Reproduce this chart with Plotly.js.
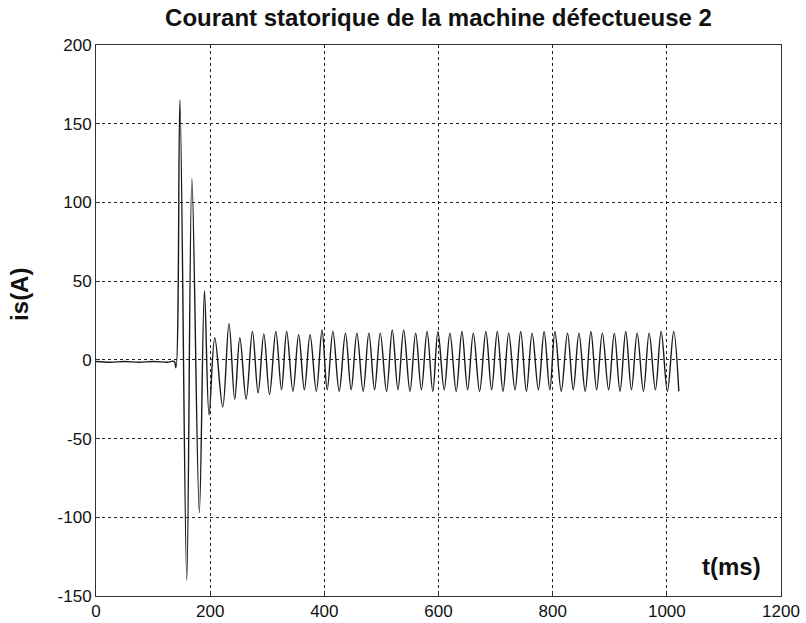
<!DOCTYPE html>
<html>
<head>
<meta charset="utf-8">
<script src="https://cdn.plot.ly/plotly-3.0.1.min.js"></script>
<style>html,body{margin:0;padding:0;background:#fff;}#chart{width:806px;height:623px;}</style>
</head>
<body>
<div id="chart"></div>
<script>
// Time (ms) of read points: flat start, transient extrema, then steady-state peaks/troughs
const timeMs = [0, 25, 50, 75, 100, 125, 137, 140,
  147, 159, 168, 181, 190, 198,
  208, 222, 233, 243, 252, 263, 274, 284, 294, 304,
  315, 325, 334, 345, 355, 365, 375, 386, 396, 405,
  415, 426, 437, 447, 457, 468, 478, 488, 498, 509,
  519, 529, 539, 550, 560, 570, 580, 590, 599, 610,
  620, 631, 641, 651, 661, 672, 683, 693, 703, 713,
  723, 734, 744, 754, 764, 775, 785, 795, 804, 815,
  826, 836, 846, 857, 867, 877, 887, 898, 908, 918,
  928, 938, 948, 959, 969, 980, 990, 1001, 1012, 1021];
// Stator current (A) at those points
const currentA = [-1, -1.5, -1, -1.5, -1, -1.5, -1, -5,
  165, -140, 115, -97, 44, -35,
  14, -30, 23, -25, 14, -25, 18, -21, 16.5, -22,
  18, -19, 18, -20, 16, -19, 16, -20, 19, -19,
  18, -20, 17, -19, 17, -20, 17, -19, 17, -20,
  19, -19, 19, -20, 17, -19, 18, -20, 18, -19,
  17, -20, 18, -19, 17, -20, 18, -19, 18, -20,
  17, -19, 18, -20, 17, -19, 18, -19, 18, -20,
  17, -19, 17, -20, 18, -19, 17, -19, 17, -20,
  18, -19, 17, -20, 17, -19, 18, -20, 18, -20];

const xTicks = [0, 200, 400, 600, 800, 1000, 1200];
const yTicks = [-150, -100, -50, 0, 50, 100, 150, 200];
const titleText = 'Courant statorique de la machine défectueuse 2';
const yLabel = 'is(A)';
const xLabel = 't(ms)';

const tickFont = {family: 'Liberation Sans Narrow, Liberation Sans, Arial, sans-serif', size: 17, color: '#111'};

const trace = {
  x: timeMs, y: currentA, type: 'scatter', mode: 'lines',
  line: {color: '#1a1a1a', width: 1.4, shape: 'spline', smoothing: 1},
  hoverinfo: 'skip'
};

const axisCommon = {
  showgrid: true, gridcolor: '#222', griddash: 'dot', gridwidth: 1,
  zeroline: false, showline: true, linecolor: '#333', linewidth: 1, mirror: true,
  ticks: 'inside', ticklen: 4, tickcolor: '#333', tickfont: tickFont
};

const layout = {
  width: 806, height: 623,
  margin: {l: 96, r: 25, t: 45, b: 27},
  paper_bgcolor: '#fff', plot_bgcolor: '#fff',
  showlegend: false,
  title: {text: titleText, font: {family: 'Liberation Sans, Arial, sans-serif', size: 24, color: '#111', weight: 'bold'},
          x: 0.5, xref: 'paper', xanchor: 'center', y: 0.972, yref: 'container', yanchor: 'middle'},
  xaxis: Object.assign({}, axisCommon, {range: [0, 1200], tickvals: xTicks, ticktext: xTicks.map(String)}),
  yaxis: Object.assign({}, axisCommon, {range: [-150, 200], tickvals: yTicks, ticktext: yTicks.map(String)}),
  annotations: [
    {text: yLabel, xref: 'paper', yref: 'paper', x: -0.112, y: 0.547, textangle: -90, showarrow: false,
     xanchor: 'center', yanchor: 'middle', font: {family: 'Liberation Sans, Arial, sans-serif', size: 24, color: '#111', weight: 'bold'}},
    {text: xLabel, xref: 'paper', yref: 'paper', x: 0.928, y: 0.053, showarrow: false,
     xanchor: 'center', yanchor: 'middle', font: {family: 'Liberation Sans, Arial, sans-serif', size: 24, color: '#111', weight: 'bold'}}
  ]
};

Plotly.newPlot('chart', [trace], layout, {staticPlot: true, displayModeBar: false});
</script>
</body>
</html>
